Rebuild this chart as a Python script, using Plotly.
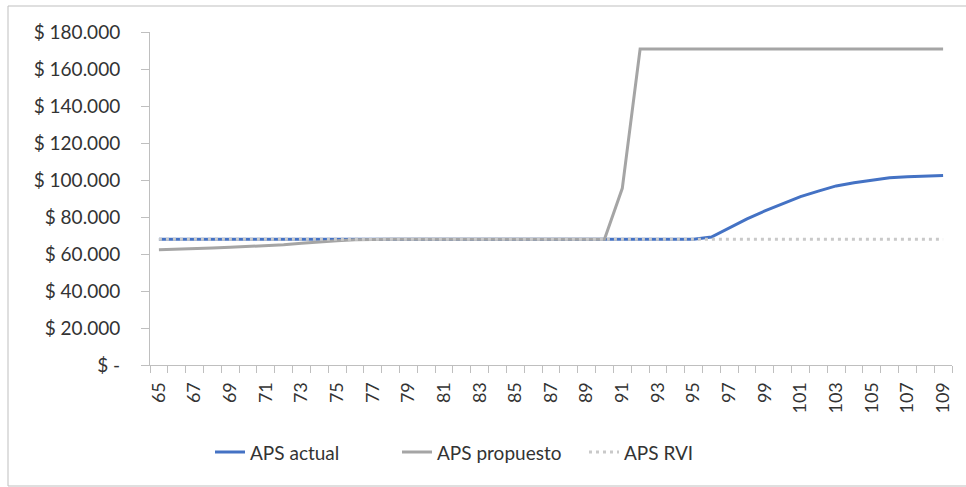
import plotly.graph_objects as go

# Ages (categories)
ages = list(range(65, 110))

# Pension amounts per age
aps_actual = [68000] * 31 + [69200, 74000, 79000, 83300, 87000, 91000, 94000,
                             96800, 98500, 100000, 101200, 101800, 102300, 102400]
aps_propuesto = [62300, 62500, 62800, 63200, 63600, 64000, 64400, 65000, 65800,
                 66600, 67200, 67700] + [68000] * 14 + [95500] + [170800] * 18
aps_rvi = [68000] * 45

series_names = ["APS actual", "APS propuesto", "APS RVI"]

y_tick_vals = [0, 20000, 40000, 60000, 80000, 100000, 120000, 140000, 160000, 180000]
y_tick_text = ["$ -", "$ 20.000", "$ 40.000", "$ 60.000", "$ 80.000", "$ 100.000",
               "$ 120.000", "$ 140.000", "$ 160.000", "$ 180.000"]
x_tick_vals = list(range(65, 110, 2))

FONT = "Lato"
TXT = "#333333"

fig = go.Figure()
fig.add_trace(go.Scatter(x=ages, y=aps_actual, name=series_names[0], mode="lines",
                         line=dict(color="#4472C4", width=3)))
fig.add_trace(go.Scatter(x=ages, y=aps_propuesto, name=series_names[1], mode="lines",
                         line=dict(color="#A5A5A5", width=3)))
fig.add_trace(go.Scatter(x=ages, y=aps_rvi, name=series_names[2], mode="lines",
                         line=dict(color="#C9C9C9", width=3, dash="3px,4px")))

L, R, T, B = 150, 14, 32, 122
W, H = 966, 487
pw, ph = W - L - R, H - T - B

# chart-area frame
fig.add_shape(type="rect", xref="paper", yref="paper",
              x0=(8 - L) / pw, x1=(972 - L) / pw,
              y0=(H - B - 486) / ph, y1=(H - B - 6) / ph,
              line=dict(color="#BFBFBF", width=1), fillcolor="rgba(0,0,0,0)", layer="below")

fig.update_layout(
    width=W, height=H,
    margin=dict(l=L, r=R, t=T, b=B),
    paper_bgcolor="white", plot_bgcolor="white",
    font=dict(family=FONT, size=19, color=TXT),
    showlegend=True,
    legend=dict(orientation="h", x=(210 - L) / pw, xanchor="left", y=-0.205, yanchor="top",
                font=dict(size=19, color=TXT), entrywidth=142, traceorder="normal"),
    xaxis=dict(range=[64.5, 109.5], showgrid=False, zeroline=False,
               showline=True, linecolor="#BFBFBF", linewidth=1,
               tickmode="array", tickvals=x_tick_vals, ticktext=[str(v) for v in x_tick_vals],
               ticks="", tickangle=-90, ticklabelstandoff=9,
               tickfont=dict(size=18),
               minor=dict(tick0=64.5, dtick=1, ticks="outside", ticklen=7,
                          tickcolor="#BFBFBF", showgrid=False)),
    yaxis=dict(range=[0, 180000], showgrid=False, zeroline=False,
               showline=True, linecolor="#BFBFBF", linewidth=1,
               tickmode="array", tickvals=y_tick_vals, ticktext=y_tick_text,
               ticks="outside", ticklen=8, tickcolor="#BFBFBF", ticklabelstandoff=17),
)

fig.write_html("out.html")
